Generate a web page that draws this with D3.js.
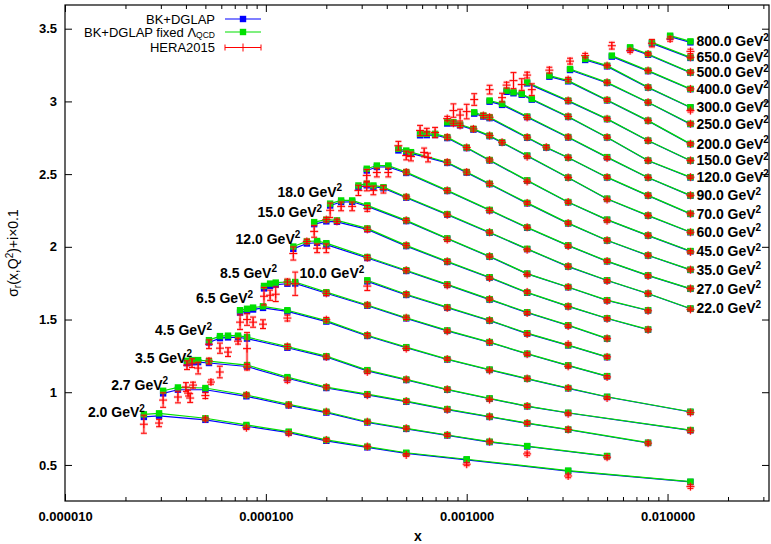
<!DOCTYPE html>
<html>
<head>
<meta charset="utf-8">
<script src="https://cdn.jsdelivr.net/npm/d3@7"></script>
<style>
  body { margin: 0; background: #fff; }
  text { font-family: "Liberation Sans", Arial, sans-serif; }
</style>
</head>
<body>
<div id="chart"></div>
<script>
const q2Labels = ["2.0", "2.7", "3.5", "4.5", "6.5", "8.5", "10.0", "12.0", "15.0", "18.0", "22.0", "27.0", "35.0",
    "45.0", "60.0", "70.0", "90.0", "120.0", "150.0", "200.0", "250.0", "300.0", "400.0", "500.0", "650.0", "800.0"]

// x of every model / data point, one list per Q2 bin
const binX = [
    [2.47e-5, 2.94e-5, 5e-5, 8e-5, 1.3e-4, 2e-4, 3.2e-4, 5e-4, 1e-3, 3.2e-3, 1.3e-2],
    [3.08e-5, 3.65e-5, 5e-5, 8e-5, 1.3e-4, 2e-4, 3.2e-4, 5e-4, 8e-4, 1.3e-3, 2e-3, 5e-3],
    [4.05e-5, 4.29e-5, 4.6e-5, 5.21e-5, 8.06e-5, 1.28e-4, 2e-4, 3.2e-4, 5e-4, 8e-4, 1.3e-3, 2e-3, 3.2e-3, 8e-3],
    [5.21e-5, 5.91e-5, 6.48e-5, 7.27e-5, 8.06e-5, 1.28e-4, 2e-4, 3.2e-4, 5e-4, 8e-4, 1.3e-3, 2e-3, 3.2e-3, 1.3e-2],
    [7.44e-5, 8.06e-5, 8.64e-5, 9.68e-5, 1.28e-4, 2e-4, 3.2e-4, 5e-4, 8e-4, 1.3e-3, 2e-3, 3.2e-3, 5e-3, 1.3e-2],
    [9.79e-5, 1.05e-4, 1.12e-4, 1.28e-4, 1.4e-4, 2e-4, 3.2e-4, 5e-4, 8e-4, 1.3e-3, 2e-3, 3.2e-3, 5e-3],
    [3.2e-4, 5e-4, 8e-4, 1.3e-3, 2e-3, 3.2e-3, 5e-3],
    [1.37e-4, 1.6e-4, 1.8e-4, 2e-4, 3.2e-4, 5e-4, 8e-4, 1.3e-3, 2e-3, 3.2e-3, 5e-3],
    [1.74e-4, 2e-4, 2.26e-4, 3.2e-4, 5e-4, 8e-4, 1.3e-3, 2e-3, 3.2e-3, 5e-3, 8e-3],
    [2.09e-4, 2.37e-4, 2.69e-4, 3.2e-4, 5e-4, 8e-4, 1.3e-3, 2e-3, 3.2e-3, 5e-3, 8e-3],
    [2.89e-4, 3.18e-4, 3.43e-4, 3.85e-4, 5e-4, 8e-4, 1.3e-3, 2e-3, 3.2e-3, 5e-3, 8e-3, 1.3e-2],
    [3.18e-4, 3.57e-4, 4.07e-4, 5e-4, 8e-4, 1.3e-3, 2e-3, 3.2e-3, 5e-3, 8e-3, 1.3e-2],
    [4.57e-4, 5e-4, 5.28e-4, 8e-4, 1e-3, 1.3e-3, 2e-3, 3.2e-3, 5e-3, 8e-3, 1.3e-2],
    [5.86e-4, 6.33e-4, 6.96e-4, 8e-4, 1e-3, 1.3e-3, 2e-3, 3.2e-3, 5e-3, 8e-3, 1.3e-2],
    [8e-4, 8.59e-4, 9.27e-4, 1.08e-3, 1.3e-3, 1.5e-3, 2e-3, 3.2e-3, 5e-3, 8e-3, 1.3e-2],
    [1.09e-3, 1.21e-3, 1.3e-3, 2e-3, 2.49e-3, 3.2e-3, 5e-3, 8e-3, 1.3e-2],
    [1.3e-3, 1.5e-3, 2e-3, 3.2e-3, 5e-3, 8e-3, 1.3e-2],
    [1.58e-3, 1.71e-3, 1.88e-3, 2.11e-3, 3.2e-3, 5e-3, 8e-3, 1.3e-2],
    [2e-3, 3.2e-3, 5e-3, 8e-3, 1.3e-2],
    [2.58e-3, 3.2e-3, 5e-3, 8e-3, 1.3e-2],
    [3.27e-3, 5e-3, 8e-3, 1.3e-2],
    [3.89e-3, 5e-3, 8e-3, 1.3e-2],
    [5.28e-3, 8e-3, 1.3e-2],
    [6.51e-3, 8e-3, 1.3e-2],
    [8.36e-3, 1.3e-2],
    [1.03e-2, 1.3e-2],
]

// BK+DGLAP fixed Lambda_QCD (green), sigma_r + i*0.1
const binGreen = [
    [0.848, 0.855, 0.821, 0.775, 0.729, 0.672, 0.626, 0.584, 0.539, 0.461, 0.385],
    [1.010, 1.033, 1.029, 0.981, 0.916, 0.866, 0.797, 0.752, 0.706, 0.660, 0.630, 0.562],
    [1.216, 1.221, 1.221, 1.214, 1.187, 1.104, 1.035, 0.987, 0.939, 0.884, 0.833, 0.788, 0.744, 0.653],
    [1.358, 1.386, 1.389, 1.389, 1.379, 1.314, 1.248, 1.152, 1.088, 1.020, 0.958, 0.905, 0.859, 0.740],
    [1.564, 1.574, 1.582, 1.591, 1.564, 1.492, 1.392, 1.310, 1.228, 1.156, 1.094, 1.029, 0.969, 0.866],
    [1.731, 1.747, 1.754, 1.758, 1.758, 1.688, 1.600, 1.512, 1.425, 1.345, 1.265, 1.185, 1.111],
    [1.770, 1.674, 1.585, 1.495, 1.406, 1.324, 1.243],
    [2.002, 2.037, 2.040, 2.025, 1.930, 1.839, 1.742, 1.640, 1.550, 1.461, 1.370],
    [2.170, 2.187, 2.182, 2.127, 2.010, 1.900, 1.791, 1.687, 1.592, 1.509, 1.432],
    [2.297, 2.319, 2.319, 2.285, 2.182, 2.058, 1.935, 1.816, 1.724, 1.633, 1.564],
    [2.422, 2.434, 2.422, 2.410, 2.343, 2.225, 2.100, 1.986, 1.866, 1.770, 1.679, 1.576],
    [2.537, 2.559, 2.559, 2.514, 2.388, 2.254, 2.134, 2.010, 1.902, 1.804, 1.713],
    [2.674, 2.662, 2.651, 2.582, 2.514, 2.434, 2.302, 2.163, 2.045, 1.942, 1.843],
    [2.777, 2.777, 2.777, 2.754, 2.683, 2.597, 2.457, 2.308, 2.187, 2.079, 1.971],
    [2.857, 2.857, 2.841, 2.811, 2.765, 2.719, 2.628, 2.477, 2.331, 2.216, 2.102],
    [2.925, 2.903, 2.891, 2.754, 2.685, 2.614, 2.479, 2.354, 2.228],
    [3.006, 2.983, 2.896, 2.755, 2.617, 2.477, 2.354],
    [3.074, 3.063, 3.052, 3.017, 2.896, 2.754, 2.594, 2.479],
    [3.131, 3.006, 2.880, 2.731, 2.594],
    [3.177, 3.143, 3.010, 2.868, 2.708],
    [3.223, 3.131, 2.994, 2.846],
    [3.292, 3.246, 3.097, 2.960],
    [3.315, 3.212, 3.086],
    [3.372, 3.326, 3.200],
    [3.406, 3.303],
    [3.452, 3.413],
]

// BK+DGLAP (blue)
const binBlue = [
    [0.830, 0.838, 0.810, 0.766, 0.722, 0.666, 0.621, 0.580, 0.535, 0.458, 0.383],
    [0.992, 1.017, 1.017, 0.972, 0.909, 0.860, 0.792, 0.748, 0.703, 0.657, 0.627, 0.560],
    [1.200, 1.206, 1.207, 1.201, 1.177, 1.096, 1.029, 0.982, 0.935, 0.881, 0.830, 0.786, 0.742, 0.651],
    [1.342, 1.372, 1.377, 1.378, 1.369, 1.306, 1.242, 1.147, 1.084, 1.017, 0.955, 0.903, 0.857, 0.738],
    [1.548, 1.559, 1.569, 1.580, 1.556, 1.486, 1.387, 1.306, 1.225, 1.153, 1.092, 1.027, 0.967, 0.864],
    [1.714, 1.731, 1.740, 1.746, 1.748, 1.681, 1.595, 1.508, 1.422, 1.342, 1.263, 1.183, 1.109],
    [1.762, 1.669, 1.581, 1.492, 1.403, 1.322, 1.241],
    [1.986, 2.023, 2.028, 2.015, 1.923, 1.834, 1.738, 1.637, 1.547, 1.459, 1.368],
    [2.156, 2.175, 2.172, 2.120, 2.005, 1.896, 1.788, 1.684, 1.590, 1.507, 1.430],
    [2.284, 2.308, 2.310, 2.278, 2.177, 2.055, 1.932, 1.814, 1.722, 1.631, 1.562],
    [2.410, 2.423, 2.413, 2.403, 2.338, 2.221, 2.097, 1.984, 1.864, 1.768, 1.677, 1.574],
    [2.525, 2.549, 2.550, 2.508, 2.384, 2.251, 2.131, 2.008, 1.900, 1.802, 1.711],
    [2.663, 2.653, 2.643, 2.577, 2.510, 2.431, 2.299, 2.161, 2.043, 1.940, 1.841],
    [2.767, 2.768, 2.769, 2.748, 2.679, 2.594, 2.454, 2.306, 2.185, 2.077, 1.969],
    [2.848, 2.849, 2.835, 2.806, 2.761, 2.716, 2.625, 2.475, 2.329, 2.214, 2.100],
    [2.916, 2.896, 2.885, 2.750, 2.682, 2.612, 2.477, 2.352, 2.226],
    [2.998, 2.976, 2.892, 2.752, 2.615, 2.475, 2.352],
    [3.066, 3.056, 3.046, 3.012, 2.893, 2.752, 2.592, 2.477],
    [3.124, 3.002, 2.878, 2.729, 2.592],
    [3.170, 3.138, 3.007, 2.866, 2.706],
    [3.216, 3.127, 2.992, 2.844],
    [3.285, 3.241, 3.095, 2.958],
    [3.308, 3.208, 3.084],
    [3.365, 3.321, 3.198],
    [3.399, 3.299],
    [3.445, 3.406],
]

// HERA2015 measurement and its error
const binData = [
    [0.780, 0.788, 0.816, 0.756, 0.718, 0.672, 0.626, 0.569, 0.505, 0.424, 0.351],
    [0.946, 0.967, 0.977, 0.981, 0.912, 0.866, 0.797, 0.752, 0.706, 0.660, 0.576, 0.553],
    [1.186, 1.200, 1.166, 1.214, 1.173, 1.083, 1.035, 0.980, 0.939, 0.880, 0.833, 0.788, 0.744, 0.650],
    [1.330, 1.303, 1.276, 1.351, 1.300, 1.314, 1.243, 1.140, 1.088, 1.020, 0.950, 0.905, 0.852, 0.735],
    [1.482, 1.500, 1.482, 1.468, 1.510, 1.499, 1.392, 1.300, 1.228, 1.150, 1.094, 1.029, 0.960, 0.860],
    [1.660, 1.667, 1.674, 1.758, 1.746, 1.680, 1.600, 1.512, 1.420, 1.345, 1.262, 1.178, 1.105],
    [1.730, 1.674, 1.580, 1.495, 1.400, 1.330, 1.243],
    [1.954, 2.037, 1.990, 1.990, 1.925, 1.839, 1.735, 1.640, 1.545, 1.455, 1.370],
    [2.106, 2.187, 2.175, 2.120, 2.010, 1.900, 1.785, 1.690, 1.590, 1.505, 1.430],
    [2.251, 2.278, 2.278, 2.264, 2.182, 2.050, 1.935, 1.810, 1.724, 1.628, 1.560],
    [2.388, 2.415, 2.388, 2.395, 2.343, 2.220, 2.100, 1.980, 1.866, 1.765, 1.679, 1.570],
    [2.491, 2.511, 2.511, 2.514, 2.388, 2.250, 2.134, 2.005, 1.902, 1.800, 1.713],
    [2.695, 2.628, 2.621, 2.582, 2.514, 2.434, 2.302, 2.163, 2.045, 1.942, 1.843],
    [2.800, 2.790, 2.786, 2.754, 2.683, 2.597, 2.450, 2.308, 2.180, 2.079, 1.965],
    [2.882, 2.850, 2.835, 2.811, 2.765, 2.719, 2.620, 2.477, 2.325, 2.216, 2.100],
    [3.013, 2.903, 2.891, 2.754, 2.685, 2.614, 2.479, 2.354, 2.228],
    [3.081, 3.026, 2.890, 2.755, 2.610, 2.477, 2.354],
    [3.112, 3.143, 3.116, 3.081, 2.896, 2.754, 2.594, 2.479],
    [3.181, 3.006, 2.880, 2.731, 2.594],
    [3.215, 3.150, 3.010, 2.868, 2.708],
    [3.277, 3.131, 2.994, 2.846],
    [3.315, 3.246, 3.097, 2.937],
    [3.383, 3.212, 3.086],
    [3.349, 3.326, 3.200],
    [3.400, 3.303],
    [3.429, 3.344],
]

const binErr = [
    [0.062, 0.025, 0.012, 0.012, 0.012, 0.01, 0.01, 0.01, 0.01, 0.012, 0.012],
    [0.05, 0.04, 0.02, 0.012, 0.012, 0.01, 0.01, 0.01, 0.01, 0.01, 0.012, 0.012],
    [0.03, 0.03, 0.04, 0.02, 0.02, 0.015, 0.012, 0.01, 0.01, 0.01, 0.01, 0.01, 0.012, 0.012],
    [0.03, 0.035, 0.03, 0.02, 0.11, 0.015, 0.012, 0.012, 0.01, 0.01, 0.01, 0.01, 0.01, 0.012],
    [0.05, 0.04, 0.035, 0.03, 0.02, 0.015, 0.012, 0.012, 0.01, 0.01, 0.01, 0.01, 0.01, 0.012],
    [0.06, 0.035, 0.05, 0.02, 0.08, 0.015, 0.012, 0.012, 0.01, 0.01, 0.01, 0.01, 0.01],
    [0.03, 0.012, 0.012, 0.01, 0.01, 0.01, 0.01],
    [0.045, 0.015, 0.03, 0.03, 0.015, 0.012, 0.012, 0.01, 0.01, 0.01, 0.01],
    [0.04, 0.015, 0.015, 0.015, 0.012, 0.012, 0.01, 0.01, 0.01, 0.01, 0.01],
    [0.05, 0.03, 0.03, 0.02, 0.012, 0.012, 0.01, 0.01, 0.01, 0.01, 0.01],
    [0.035, 0.03, 0.03, 0.025, 0.012, 0.012, 0.01, 0.01, 0.01, 0.01, 0.01, 0.01],
    [0.04, 0.03, 0.03, 0.015, 0.012, 0.012, 0.01, 0.01, 0.01, 0.01, 0.01],
    [0.03, 0.03, 0.03, 0.015, 0.015, 0.012, 0.01, 0.01, 0.01, 0.01, 0.01],
    [0.035, 0.025, 0.035, 0.015, 0.012, 0.012, 0.01, 0.01, 0.01, 0.01, 0.01],
    [0.015, 0.015, 0.015, 0.015, 0.012, 0.012, 0.01, 0.01, 0.01, 0.01, 0.01],
    [0.04, 0.015, 0.015, 0.012, 0.012, 0.01, 0.01, 0.01, 0.01],
    [0.03, 0.03, 0.012, 0.012, 0.01, 0.01, 0.01],
    [0.02, 0.055, 0.04, 0.04, 0.012, 0.01, 0.01, 0.01],
    [0.02, 0.012, 0.01, 0.01, 0.01],
    [0.02, 0.015, 0.01, 0.01, 0.01],
    [0.02, 0.01, 0.01, 0.01],
    [0.015, 0.01, 0.01, 0.01],
    [0.023, 0.01, 0.01],
    [0.012, 0.01, 0.01],
    [0.025, 0.01],
    [0.015, 0.015],
]

// data points without a model point: [bin, x, value, error]
const extraData = [
    [1, 4.0e-5, 1.036, 0.03], [1, 4.1e-5, 0.994, 0.02], [1, 4.2e-5, 0.960, 0.03],
    [1, 4.34e-5, 1.049, 0.02], [1, 5.33e-5, 1.070, 0.015], [2, 5.9e-5, 1.139, 0.04],
    [12, 6.14e-4, 2.649, 0.03], [12, 6.42e-4, 2.614, 0.03],
    [14, 8.59e-4, 2.937, 0.046], [14, 9.27e-4, 2.906, 0.04], [14, 1.0e-3, 2.930, 0.05],
]

const xTicks = [1e-5, 1e-4, 1e-3, 1e-2]
const yTicks = [0.5, 1, 1.5, 2, 2.5, 3, 3.5]
const legendNames = ["BK+DGLAP", "BK+DGLAP fixed \u039B", "HERA2015"]

// label nudges (px) for the bins labelled on the left
const leftNudge = [[1, 3], [5, -1], [5, 2], [3, -5], [13, -7], [13, -8], [-3, -2], [7, -3], [8, -5], [12, -7]]

const CONFIG = {
    width: 771,
    height: 544,
    plot: { left: 65, right: 769, top: 5, bottom: 501 },
}
const BLUE = '#0000ff'
const GREEN = '#00e000'
const RED = '#ff0000'

const svg = d3.select('#chart')
    .append('svg')
    .attr('width', CONFIG.width)
    .attr('height', CONFIG.height)
    .attr('style', 'background-color: white')

const P = CONFIG.plot
const x = d3.scaleLog().domain([1e-5, 0.032]).range([P.left, P.right])
const y = d3.scaleLinear().domain([0.252, 3.663]).range([P.bottom, P.top])

svg.append('clipPath').attr('id', 'clip')
    .append('rect')
    .attr('x', P.left).attr('y', P.top)
    .attr('width', P.right - P.left).attr('height', P.bottom - P.top)

const bins = q2Labels.map((q, i) => ({
    i, q,
    model: binX[i].map((xv, k) => ({ x: xv, g: binGreen[i][k], b: binBlue[i][k] })),
    pts: binX[i].map((xv, k) => ({ x: xv, v: binData[i][k], e: binErr[i][k] }))
        .concat(extraData.filter(d => d[0] === i).map(d => ({ x: d[1], v: d[2], e: d[3] })))
}))

// axes, ticks pointing inwards on all four sides
const minor = []
for (let e = -5; e <= -2; e++) for (let m = 2; m <= 9; m++) if (m * Math.pow(10, e) <= 0.032) minor.push(m * Math.pow(10, e))

const axes = svg.append('g').attr('class', 'axes')
function tickStyle(g) {
    g.select('.domain').remove()
    g.selectAll('line').attr('stroke', '#000').attr('stroke-width', 1)
    g.selectAll('text').attr('font-size', 13).attr('font-weight', 'bold').attr('fill', '#000')
        .attr('font-family', '"Liberation Sans", Arial, sans-serif')
}
axes.append('g').attr('transform', `translate(0,${P.bottom})`)
    .call(d3.axisBottom(x).tickValues(xTicks).tickFormat(d3.format('.6f')).tickSize(-7).tickPadding(11))
    .call(tickStyle)
axes.append('g').attr('transform', `translate(0,${P.bottom})`)
    .call(d3.axisBottom(x).tickValues(minor).tickFormat('').tickSize(-4)).call(tickStyle)
axes.append('g').attr('transform', `translate(0,${P.top})`)
    .call(d3.axisTop(x).tickValues(xTicks).tickFormat('').tickSize(-7)).call(tickStyle)
axes.append('g').attr('transform', `translate(0,${P.top})`)
    .call(d3.axisTop(x).tickValues(minor).tickFormat('').tickSize(-4)).call(tickStyle)
axes.append('g').attr('transform', `translate(${P.left},0)`)
    .call(d3.axisLeft(y).tickValues(yTicks).tickFormat(d3.format('')).tickSize(-7).tickPadding(8))
    .call(tickStyle)
axes.append('g').attr('transform', `translate(${P.right},0)`)
    .call(d3.axisRight(y).tickValues(yTicks).tickFormat('').tickSize(-7)).call(tickStyle)

svg.append('rect')
    .attr('x', P.left).attr('y', P.top)
    .attr('width', P.right - P.left).attr('height', P.bottom - P.top)
    .attr('fill', 'none').attr('stroke', '#000').attr('stroke-width', 1.2)

svg.append('text')
    .attr('x', (P.left + P.right) / 2 + 1).attr('y', 541)
    .attr('text-anchor', 'middle').attr('font-size', 14).attr('font-weight', 'bold')
    .text('x')

const ylab = svg.append('text')
    .attr('transform', `translate(18,${(P.top + P.bottom) / 2}) rotate(-90)`)
    .attr('text-anchor', 'middle').attr('font-size', 14)
ylab.append('tspan').text('\u03C3')
ylab.append('tspan').attr('font-size', 10).attr('dy', 3).text('r')
ylab.append('tspan').attr('dy', -3).text('(x,Q')
ylab.append('tspan').attr('font-size', 10).attr('dy', -5).text('2')
ylab.append('tspan').attr('dy', 5).text(')+i\u00D70.1')

// model curves and HERA points
const plot = svg.append('g').attr('clip-path', 'url(#clip)')

function drawModel(key, color) {
    const line = d3.line().x(d => x(d.x)).y(d => y(d[key]))
    const g = plot.append('g').attr('class', 'model-' + key)
    g.selectAll('path')
        .data(bins)
        .enter()
        .append('path')
        .attr('d', d => line(d.model))
        .attr('fill', 'none')
        .attr('stroke', color)
        .attr('stroke-width', 1.2)
    g.selectAll('g.pts')
        .data(bins)
        .enter()
        .append('g')
        .selectAll('rect')
        .data(d => d.model)
        .enter()
        .append('rect')
        .attr('x', d => x(d.x) - 3.2)
        .attr('y', d => y(d[key]) - 3.2)
        .attr('width', 6.4)
        .attr('height', 6.4)
        .attr('fill', color)
}
drawModel('b', BLUE)
drawModel('g', GREEN)

function errPath(d) {
    const px = x(d.x), py = y(d.v), lo = y(d.v - d.e), hi = y(d.v + d.e)
    return `M${px},${hi}V${lo}M${px - 3},${hi}H${px + 3}M${px - 3},${lo}H${px + 3}` +
        `M${px - 4},${py}H${px + 4}M${px},${py - 4}V${py + 4}`
}
const allPts = bins.flatMap(b => b.pts)
plot.append('g').selectAll('path')
    .data(allPts)
    .enter()
    .append('path')
    .attr('d', errPath)
    .attr('fill', 'none')
    .attr('stroke', 'rgba(255,80,80,0.3)')
    .attr('stroke-width', 3)
plot.append('g').selectAll('path')
    .data(allPts)
    .enter()
    .append('path')
    .attr('d', errPath)
    .attr('fill', 'none')
    .attr('stroke', RED)
    .attr('stroke-width', 1)

// Q2 labels: low bins to the left of the first point, high bins after the last one
const labels = svg.append('g').attr('font-size', 14).attr('font-weight', 'bold')
bins.forEach(b => {
    let tx, ty, anchor
    if (b.i < 10) {
        const first = b.model[0]
        tx = x(first.x) + leftNudge[b.i][0]
        ty = y(first.g) + leftNudge[b.i][1]
        anchor = 'end'
    } else {
        const last = b.model[b.model.length - 1]
        tx = x(last.x) + 6
        ty = y(last.g) + 5
        anchor = 'start'
    }
    const t = labels.append('text').attr('x', tx).attr('y', ty).attr('text-anchor', anchor)
    t.append('tspan').text(b.q + ' GeV')
    t.append('tspan').attr('font-size', 10).attr('dy', -5.5).text('2')
})

// legend
const legend = svg.append('g').attr('font-size', 13)
const legendColors = [BLUE, GREEN, RED]
const legendBase = [23.5, 36.5, 52]
legendNames.forEach((name, k) => {
    const base = legendBase[k]
    const ly = base - 4.5
    const t = legend.append('text').attr('x', 215).attr('y', base).attr('text-anchor', 'end')
    if (k === 1) {
        t.append('tspan').text(name)
        t.append('tspan').attr('font-size', 8.5).attr('dy', 1.5).text('QCD')
    } else {
        t.text(name)
    }
    legend.append('line')
        .attr('x1', 225).attr('x2', 261).attr('y1', ly).attr('y2', ly)
        .attr('stroke', legendColors[k]).attr('stroke-width', 1.2)
    if (k < 2) {
        legend.append('rect')
            .attr('x', 243 - 3.2).attr('y', ly - 3.2).attr('width', 6.4).attr('height', 6.4)
            .attr('fill', legendColors[k])
    } else {
        legend.append('path')
            .attr('d', `M225,${ly - 3}V${ly + 3}M261,${ly - 3}V${ly + 3}M243,${ly - 4}V${ly + 4}`)
            .attr('stroke', RED).attr('stroke-width', 1)
    }
})
</script>
</body>
</html>
